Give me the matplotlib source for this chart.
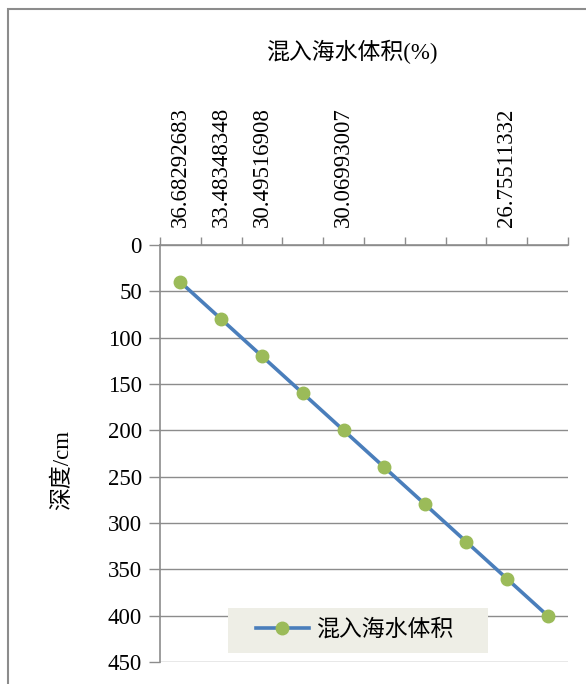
import matplotlib
matplotlib.use("Agg")
import matplotlib.pyplot as plt
from matplotlib.patches import Rectangle

plt.rcParams['font.family'] = ['Liberation Serif', 'Noto Sans CJK SC']

# Data
depth = [40, 80, 120, 160, 200, 240, 280, 320, 360, 400]
cat_labels = ['36.68292683', '33.48348348', '30.49516908', '', '30.06993007',
              '', '', '', '26.75511332', '']
series_name = '混入海水体积'
x_title = '混入海水体积(%)'
y_title = '深度/cm'
y_ticks = [0, 50, 100, 150, 200, 250, 300, 350, 400, 450]

W, H = 586, 684
FS = 16.5
fig = plt.figure(figsize=(W / 100, H / 100), dpi=100)
fig.patch.set_facecolor('white')

# outer chart frame (partially clipped like the reference)
fig.patches.append(Rectangle((8 / W, -0.1), 1.2, 1 - 9 / H + 0.1, transform=fig.transFigure,
                             fill=False, edgecolor='#8c8c8c', linewidth=1.5, zorder=0))

ax = fig.add_axes([160 / W, 1 - 662 / H, (568 - 160) / W, (662 - 245) / H])
x = list(range(1, len(depth) + 1))

line, = ax.plot(x, depth, color='#4A7EBB', linewidth=2.6, marker='o', markersize=9,
                markerfacecolor='#9BBB59', markeredgecolor='#9BBB59', label=series_name,
                zorder=3)

ax.set_xlim(0.5, len(depth) + 0.5)
ax.set_ylim(450, 0)

# y axis
ax.set_yticks(y_ticks)
ax.tick_params(axis='y', direction='out', length=8, width=1, color='#8c8c8c',
               labelsize=FS, pad=5)
ax.yaxis.grid(True, color='#8c8c8c', linewidth=1)
ax.set_axisbelow(True)

# x axis at top: boundary ticks (major) and category labels (minor)
ax.xaxis.tick_top()
ax.set_xticks([i + 0.5 for i in range(0, len(depth) + 1)])
ax.set_xticklabels([])
ax.set_xticks(x, minor=True)
ax.set_xticklabels(cat_labels, minor=True, rotation=90, fontsize=FS)
ax.tick_params(axis='x', which='major', direction='out', length=6, width=1, color='#8c8c8c')
ax.tick_params(axis='x', which='minor', length=0, pad=13)

for s in ['right', 'bottom']:
    ax.spines[s].set_visible(False)
ax.spines['left'].set_color('#8c8c8c')
ax.spines['top'].set_color('#8c8c8c')
ax.spines['left'].set_linewidth(1.2)
ax.spines['top'].set_linewidth(1.2)

fig.text(353 / W, 1 - 52 / H, x_title, ha='center', va='center', fontsize=FS)
fig.text(62 / W, 1 - 470 / H, y_title, ha='center', va='center', rotation=90, fontsize=FS)

# legend background box
fig.patches.append(Rectangle((228 / W, 1 - 653 / H), (488 - 228) / W, (653 - 608) / H,
                             transform=fig.transFigure, facecolor='#EEEEE6',
                             edgecolor='none', zorder=2))
leg = fig.legend(handles=[line], loc='center', bbox_to_anchor=(355 / W, 1 - 630 / H),
                 fontsize=FS, frameon=False, borderpad=0, handlelength=2.3,
                 handletextpad=0.35, borderaxespad=0)
leg.set_zorder(3)

fig.savefig('out.png', dpi=100)
